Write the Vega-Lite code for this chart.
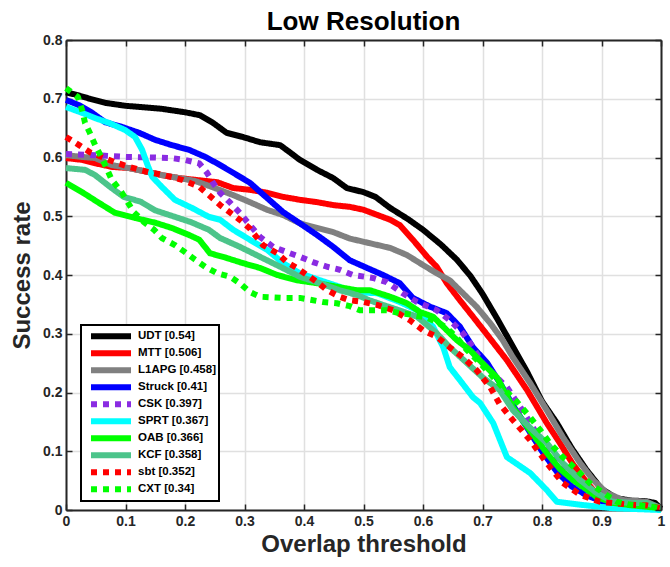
{
"$schema":"https://vega.github.io/schema/vega-lite/v6.json",
"width":595,"height":470,
"autosize":{"type":"none"},
"padding":{"left":66,"top":40,"right":9,"bottom":57},
"background":"white",
"config":{"font":"Liberation Sans","view":{"stroke":null}},
"title":{"text":"Low Resolution","fontSize":26,"fontWeight":"bold","color":"#000000","anchor":"middle","offset":-2},
"data":{"values":[
{"t":"UDT","x":0,"y":0.711},{"t":"UDT","x":0.02,"y":0.706},{"t":"UDT","x":0.04,"y":0.7},{"t":"UDT","x":0.066,"y":0.693},{"t":"UDT","x":0.1,"y":0.688},{"t":"UDT","x":0.16,"y":0.683},{"t":"UDT","x":0.2,"y":0.677},{"t":"UDT","x":0.225,"y":0.672},{"t":"UDT","x":0.247,"y":0.659},{"t":"UDT","x":0.27,"y":0.642},{"t":"UDT","x":0.297,"y":0.635},{"t":"UDT","x":0.326,"y":0.626},{"t":"UDT","x":0.36,"y":0.621},{"t":"UDT","x":0.376,"y":0.609},{"t":"UDT","x":0.393,"y":0.596},{"t":"UDT","x":0.422,"y":0.579},{"t":"UDT","x":0.449,"y":0.565},{"t":"UDT","x":0.472,"y":0.548},{"t":"UDT","x":0.5,"y":0.541},{"t":"UDT","x":0.52,"y":0.533},{"t":"UDT","x":0.545,"y":0.514},{"t":"UDT","x":0.575,"y":0.495},{"t":"UDT","x":0.6,"y":0.477},{"t":"UDT","x":0.63,"y":0.452},{"t":"UDT","x":0.657,"y":0.426},{"t":"UDT","x":0.68,"y":0.398},{"t":"UDT","x":0.7,"y":0.368},{"t":"UDT","x":0.725,"y":0.325},{"t":"UDT","x":0.75,"y":0.28},{"t":"UDT","x":0.775,"y":0.235},{"t":"UDT","x":0.8,"y":0.185},{"t":"UDT","x":0.825,"y":0.148},{"t":"UDT","x":0.85,"y":0.105},{"t":"UDT","x":0.875,"y":0.068},{"t":"UDT","x":0.9,"y":0.036},{"t":"UDT","x":0.925,"y":0.02},{"t":"UDT","x":0.95,"y":0.016},{"t":"UDT","x":0.975,"y":0.015},{"t":"UDT","x":0.99,"y":0.012},{"t":"UDT","x":1,"y":0.002},
{"t":"MTT","x":0,"y":0.599},{"t":"MTT","x":0.027,"y":0.596},{"t":"MTT","x":0.05,"y":0.59},{"t":"MTT","x":0.077,"y":0.584},{"t":"MTT","x":0.106,"y":0.582},{"t":"MTT","x":0.139,"y":0.575},{"t":"MTT","x":0.161,"y":0.57},{"t":"MTT","x":0.19,"y":0.565},{"t":"MTT","x":0.217,"y":0.562},{"t":"MTT","x":0.254,"y":0.558},{"t":"MTT","x":0.281,"y":0.548},{"t":"MTT","x":0.309,"y":0.545},{"t":"MTT","x":0.338,"y":0.54},{"t":"MTT","x":0.365,"y":0.533},{"t":"MTT","x":0.393,"y":0.528},{"t":"MTT","x":0.422,"y":0.524},{"t":"MTT","x":0.449,"y":0.519},{"t":"MTT","x":0.477,"y":0.516},{"t":"MTT","x":0.5,"y":0.511},{"t":"MTT","x":0.545,"y":0.494},{"t":"MTT","x":0.561,"y":0.485},{"t":"MTT","x":0.583,"y":0.46},{"t":"MTT","x":0.607,"y":0.431},{"t":"MTT","x":0.623,"y":0.414},{"t":"MTT","x":0.64,"y":0.386},{"t":"MTT","x":0.662,"y":0.357},{"t":"MTT","x":0.684,"y":0.329},{"t":"MTT","x":0.708,"y":0.298},{"t":"MTT","x":0.741,"y":0.255},{"t":"MTT","x":0.775,"y":0.204},{"t":"MTT","x":0.808,"y":0.148},{"t":"MTT","x":0.83,"y":0.114},{"t":"MTT","x":0.852,"y":0.078},{"t":"MTT","x":0.876,"y":0.046},{"t":"MTT","x":0.897,"y":0.022},{"t":"MTT","x":0.919,"y":0.012},{"t":"MTT","x":0.95,"y":0.01},{"t":"MTT","x":0.976,"y":0.009},{"t":"MTT","x":1,"y":0.003},
{"t":"L1APG","x":0,"y":0.604},{"t":"L1APG","x":0.027,"y":0.601},{"t":"L1APG","x":0.049,"y":0.599},{"t":"L1APG","x":0.077,"y":0.587},{"t":"L1APG","x":0.106,"y":0.582},{"t":"L1APG","x":0.139,"y":0.575},{"t":"L1APG","x":0.161,"y":0.57},{"t":"L1APG","x":0.19,"y":0.565},{"t":"L1APG","x":0.217,"y":0.56},{"t":"L1APG","x":0.245,"y":0.55},{"t":"L1APG","x":0.281,"y":0.536},{"t":"L1APG","x":0.309,"y":0.524},{"t":"L1APG","x":0.338,"y":0.511},{"t":"L1APG","x":0.365,"y":0.502},{"t":"L1APG","x":0.393,"y":0.488},{"t":"L1APG","x":0.422,"y":0.48},{"t":"L1APG","x":0.449,"y":0.473},{"t":"L1APG","x":0.477,"y":0.462},{"t":"L1APG","x":0.511,"y":0.454},{"t":"L1APG","x":0.545,"y":0.446},{"t":"L1APG","x":0.573,"y":0.434},{"t":"L1APG","x":0.6,"y":0.417},{"t":"L1APG","x":0.623,"y":0.403},{"t":"L1APG","x":0.645,"y":0.391},{"t":"L1APG","x":0.667,"y":0.369},{"t":"L1APG","x":0.69,"y":0.346},{"t":"L1APG","x":0.713,"y":0.318},{"t":"L1APG","x":0.734,"y":0.289},{"t":"L1APG","x":0.751,"y":0.26},{"t":"L1APG","x":0.78,"y":0.216},{"t":"L1APG","x":0.808,"y":0.17},{"t":"L1APG","x":0.835,"y":0.124},{"t":"L1APG","x":0.864,"y":0.08},{"t":"L1APG","x":0.886,"y":0.051},{"t":"L1APG","x":0.909,"y":0.029},{"t":"L1APG","x":0.936,"y":0.017},{"t":"L1APG","x":0.976,"y":0.014},{"t":"L1APG","x":1,"y":0.003},
{"t":"Struck","x":0,"y":0.698},{"t":"Struck","x":0.022,"y":0.689},{"t":"Struck","x":0.044,"y":0.676},{"t":"Struck","x":0.066,"y":0.66},{"t":"Struck","x":0.094,"y":0.652},{"t":"Struck","x":0.123,"y":0.642},{"t":"Struck","x":0.15,"y":0.63},{"t":"Struck","x":0.178,"y":0.621},{"t":"Struck","x":0.207,"y":0.613},{"t":"Struck","x":0.234,"y":0.601},{"t":"Struck","x":0.254,"y":0.59},{"t":"Struck","x":0.281,"y":0.574},{"t":"Struck","x":0.309,"y":0.557},{"t":"Struck","x":0.338,"y":0.531},{"t":"Struck","x":0.365,"y":0.507},{"t":"Struck","x":0.393,"y":0.488},{"t":"Struck","x":0.422,"y":0.468},{"t":"Struck","x":0.449,"y":0.448},{"t":"Struck","x":0.477,"y":0.425},{"t":"Struck","x":0.506,"y":0.412},{"t":"Struck","x":0.533,"y":0.4},{"t":"Struck","x":0.561,"y":0.386},{"t":"Struck","x":0.583,"y":0.361},{"t":"Struck","x":0.612,"y":0.346},{"t":"Struck","x":0.64,"y":0.335},{"t":"Struck","x":0.662,"y":0.312},{"t":"Struck","x":0.684,"y":0.277},{"t":"Struck","x":0.708,"y":0.25},{"t":"Struck","x":0.73,"y":0.215},{"t":"Struck","x":0.75,"y":0.18},{"t":"Struck","x":0.775,"y":0.14},{"t":"Struck","x":0.8,"y":0.1},{"t":"Struck","x":0.825,"y":0.065},{"t":"Struck","x":0.85,"y":0.04},{"t":"Struck","x":0.875,"y":0.025},{"t":"Struck","x":0.9,"y":0.015},{"t":"Struck","x":0.95,"y":0.007},{"t":"Struck","x":1,"y":0.002},
{"t":"CSK","x":0,"y":0.606},{"t":"CSK","x":0.05,"y":0.604},{"t":"CSK","x":0.1,"y":0.601},{"t":"CSK","x":0.15,"y":0.6},{"t":"CSK","x":0.178,"y":0.599},{"t":"CSK","x":0.2,"y":0.596},{"t":"CSK","x":0.224,"y":0.59},{"t":"CSK","x":0.237,"y":0.574},{"t":"CSK","x":0.247,"y":0.557},{"t":"CSK","x":0.259,"y":0.54},{"t":"CSK","x":0.276,"y":0.523},{"t":"CSK","x":0.292,"y":0.506},{"t":"CSK","x":0.309,"y":0.485},{"t":"CSK","x":0.326,"y":0.465},{"t":"CSK","x":0.348,"y":0.448},{"t":"CSK","x":0.371,"y":0.439},{"t":"CSK","x":0.393,"y":0.431},{"t":"CSK","x":0.415,"y":0.422},{"t":"CSK","x":0.439,"y":0.414},{"t":"CSK","x":0.46,"y":0.409},{"t":"CSK","x":0.482,"y":0.4},{"t":"CSK","x":0.516,"y":0.395},{"t":"CSK","x":0.539,"y":0.388},{"t":"CSK","x":0.566,"y":0.369},{"t":"CSK","x":0.59,"y":0.354},{"t":"CSK","x":0.623,"y":0.34},{"t":"CSK","x":0.645,"y":0.323},{"t":"CSK","x":0.667,"y":0.301},{"t":"CSK","x":0.684,"y":0.277},{"t":"CSK","x":0.7,"y":0.25},{"t":"CSK","x":0.724,"y":0.226},{"t":"CSK","x":0.741,"y":0.209},{"t":"CSK","x":0.77,"y":0.165},{"t":"CSK","x":0.8,"y":0.115},{"t":"CSK","x":0.83,"y":0.075},{"t":"CSK","x":0.86,"y":0.045},{"t":"CSK","x":0.88,"y":0.029},{"t":"CSK","x":0.91,"y":0.015},{"t":"CSK","x":0.95,"y":0.008},{"t":"CSK","x":1,"y":0.003},
{"t":"SPRT","x":0,"y":0.686},{"t":"SPRT","x":0.027,"y":0.676},{"t":"SPRT","x":0.049,"y":0.667},{"t":"SPRT","x":0.072,"y":0.659},{"t":"SPRT","x":0.099,"y":0.647},{"t":"SPRT","x":0.116,"y":0.635},{"t":"SPRT","x":0.128,"y":0.613},{"t":"SPRT","x":0.136,"y":0.59},{"t":"SPRT","x":0.145,"y":0.567},{"t":"SPRT","x":0.161,"y":0.55},{"t":"SPRT","x":0.183,"y":0.528},{"t":"SPRT","x":0.212,"y":0.514},{"t":"SPRT","x":0.24,"y":0.499},{"t":"SPRT","x":0.259,"y":0.494},{"t":"SPRT","x":0.281,"y":0.477},{"t":"SPRT","x":0.309,"y":0.46},{"t":"SPRT","x":0.338,"y":0.443},{"t":"SPRT","x":0.365,"y":0.42},{"t":"SPRT","x":0.393,"y":0.403},{"t":"SPRT","x":0.427,"y":0.391},{"t":"SPRT","x":0.46,"y":0.38},{"t":"SPRT","x":0.477,"y":0.371},{"t":"SPRT","x":0.523,"y":0.369},{"t":"SPRT","x":0.561,"y":0.354},{"t":"SPRT","x":0.59,"y":0.34},{"t":"SPRT","x":0.617,"y":0.312},{"t":"SPRT","x":0.634,"y":0.277},{"t":"SPRT","x":0.645,"y":0.243},{"t":"SPRT","x":0.662,"y":0.221},{"t":"SPRT","x":0.684,"y":0.192},{"t":"SPRT","x":0.696,"y":0.182},{"t":"SPRT","x":0.718,"y":0.148},{"t":"SPRT","x":0.741,"y":0.09},{"t":"SPRT","x":0.78,"y":0.063},{"t":"SPRT","x":0.808,"y":0.034},{"t":"SPRT","x":0.825,"y":0.014},{"t":"SPRT","x":0.864,"y":0.009},{"t":"SPRT","x":0.919,"y":0.003},{"t":"SPRT","x":1,"y":0},
{"t":"OAB","x":0,"y":0.557},{"t":"OAB","x":0.027,"y":0.541},{"t":"OAB","x":0.055,"y":0.523},{"t":"OAB","x":0.082,"y":0.506},{"t":"OAB","x":0.116,"y":0.497},{"t":"OAB","x":0.15,"y":0.489},{"t":"OAB","x":0.178,"y":0.48},{"t":"OAB","x":0.207,"y":0.468},{"t":"OAB","x":0.224,"y":0.46},{"t":"OAB","x":0.242,"y":0.437},{"t":"OAB","x":0.27,"y":0.429},{"t":"OAB","x":0.298,"y":0.42},{"t":"OAB","x":0.326,"y":0.412},{"t":"OAB","x":0.355,"y":0.4},{"t":"OAB","x":0.388,"y":0.391},{"t":"OAB","x":0.422,"y":0.386},{"t":"OAB","x":0.455,"y":0.38},{"t":"OAB","x":0.489,"y":0.374},{"t":"OAB","x":0.511,"y":0.374},{"t":"OAB","x":0.545,"y":0.363},{"t":"OAB","x":0.573,"y":0.352},{"t":"OAB","x":0.595,"y":0.337},{"t":"OAB","x":0.617,"y":0.329},{"t":"OAB","x":0.634,"y":0.312},{"t":"OAB","x":0.657,"y":0.289},{"t":"OAB","x":0.679,"y":0.272},{"t":"OAB","x":0.7,"y":0.25},{"t":"OAB","x":0.724,"y":0.226},{"t":"OAB","x":0.751,"y":0.175},{"t":"OAB","x":0.78,"y":0.135},{"t":"OAB","x":0.808,"y":0.097},{"t":"OAB","x":0.83,"y":0.07},{"t":"OAB","x":0.852,"y":0.051},{"t":"OAB","x":0.875,"y":0.035},{"t":"OAB","x":0.892,"y":0.022},{"t":"OAB","x":0.92,"y":0.012},{"t":"OAB","x":0.95,"y":0.008},{"t":"OAB","x":1,"y":0.003},
{"t":"KCF","x":0,"y":0.582},{"t":"KCF","x":0.032,"y":0.579},{"t":"KCF","x":0.049,"y":0.57},{"t":"KCF","x":0.074,"y":0.55},{"t":"KCF","x":0.097,"y":0.533},{"t":"KCF","x":0.125,"y":0.525},{"t":"KCF","x":0.15,"y":0.51},{"t":"KCF","x":0.18,"y":0.5},{"t":"KCF","x":0.21,"y":0.49},{"t":"KCF","x":0.24,"y":0.477},{"t":"KCF","x":0.259,"y":0.463},{"t":"KCF","x":0.292,"y":0.448},{"t":"KCF","x":0.326,"y":0.431},{"t":"KCF","x":0.36,"y":0.414},{"t":"KCF","x":0.393,"y":0.397},{"t":"KCF","x":0.427,"y":0.386},{"t":"KCF","x":0.46,"y":0.374},{"t":"KCF","x":0.489,"y":0.366},{"t":"KCF","x":0.51,"y":0.357},{"t":"KCF","x":0.533,"y":0.349},{"t":"KCF","x":0.56,"y":0.34},{"t":"KCF","x":0.59,"y":0.329},{"t":"KCF","x":0.623,"y":0.301},{"t":"KCF","x":0.645,"y":0.277},{"t":"KCF","x":0.674,"y":0.25},{"t":"KCF","x":0.7,"y":0.226},{"t":"KCF","x":0.729,"y":0.204},{"t":"KCF","x":0.751,"y":0.17},{"t":"KCF","x":0.78,"y":0.14},{"t":"KCF","x":0.808,"y":0.114},{"t":"KCF","x":0.835,"y":0.08},{"t":"KCF","x":0.864,"y":0.051},{"t":"KCF","x":0.892,"y":0.029},{"t":"KCF","x":0.919,"y":0.014},{"t":"KCF","x":0.95,"y":0.012},{"t":"KCF","x":0.976,"y":0.012},{"t":"KCF","x":1,"y":0.003},
{"t":"sbt","x":0,"y":0.635},{"t":"sbt","x":0.022,"y":0.621},{"t":"sbt","x":0.04,"y":0.609},{"t":"sbt","x":0.06,"y":0.601},{"t":"sbt","x":0.082,"y":0.592},{"t":"sbt","x":0.106,"y":0.584},{"t":"sbt","x":0.139,"y":0.575},{"t":"sbt","x":0.165,"y":0.57},{"t":"sbt","x":0.195,"y":0.562},{"t":"sbt","x":0.224,"y":0.55},{"t":"sbt","x":0.24,"y":0.536},{"t":"sbt","x":0.259,"y":0.519},{"t":"sbt","x":0.276,"y":0.506},{"t":"sbt","x":0.292,"y":0.494},{"t":"sbt","x":0.309,"y":0.479},{"t":"sbt","x":0.331,"y":0.451},{"t":"sbt","x":0.355,"y":0.437},{"t":"sbt","x":0.371,"y":0.422},{"t":"sbt","x":0.388,"y":0.412},{"t":"sbt","x":0.405,"y":0.4},{"t":"sbt","x":0.422,"y":0.388},{"t":"sbt","x":0.439,"y":0.374},{"t":"sbt","x":0.46,"y":0.363},{"t":"sbt","x":0.477,"y":0.357},{"t":"sbt","x":0.5,"y":0.354},{"t":"sbt","x":0.523,"y":0.349},{"t":"sbt","x":0.55,"y":0.34},{"t":"sbt","x":0.578,"y":0.323},{"t":"sbt","x":0.6,"y":0.306},{"t":"sbt","x":0.623,"y":0.295},{"t":"sbt","x":0.645,"y":0.277},{"t":"sbt","x":0.667,"y":0.26},{"t":"sbt","x":0.69,"y":0.238},{"t":"sbt","x":0.713,"y":0.209},{"t":"sbt","x":0.729,"y":0.18},{"t":"sbt","x":0.751,"y":0.153},{"t":"sbt","x":0.78,"y":0.119},{"t":"sbt","x":0.808,"y":0.08},{"t":"sbt","x":0.835,"y":0.046},{"t":"sbt","x":0.864,"y":0.026},{"t":"sbt","x":0.897,"y":0.014},{"t":"sbt","x":0.948,"y":0.009},{"t":"sbt","x":0.975,"y":0.008},{"t":"sbt","x":1,"y":0.003},
{"t":"CXT","x":0,"y":0.718},{"t":"CXT","x":0.02,"y":0.703},{"t":"CXT","x":0.027,"y":0.681},{"t":"CXT","x":0.032,"y":0.659},{"t":"CXT","x":0.04,"y":0.642},{"t":"CXT","x":0.049,"y":0.621},{"t":"CXT","x":0.06,"y":0.6},{"t":"CXT","x":0.077,"y":0.562},{"t":"CXT","x":0.094,"y":0.54},{"t":"CXT","x":0.114,"y":0.507},{"t":"CXT","x":0.131,"y":0.49},{"t":"CXT","x":0.148,"y":0.477},{"t":"CXT","x":0.161,"y":0.463},{"t":"CXT","x":0.183,"y":0.451},{"t":"CXT","x":0.2,"y":0.439},{"t":"CXT","x":0.217,"y":0.426},{"t":"CXT","x":0.234,"y":0.414},{"t":"CXT","x":0.254,"y":0.403},{"t":"CXT","x":0.276,"y":0.397},{"t":"CXT","x":0.292,"y":0.386},{"t":"CXT","x":0.309,"y":0.371},{"t":"CXT","x":0.326,"y":0.363},{"t":"CXT","x":0.365,"y":0.361},{"t":"CXT","x":0.393,"y":0.361},{"t":"CXT","x":0.432,"y":0.354},{"t":"CXT","x":0.455,"y":0.352},{"t":"CXT","x":0.477,"y":0.347},{"t":"CXT","x":0.494,"y":0.34},{"t":"CXT","x":0.539,"y":0.34},{"t":"CXT","x":0.561,"y":0.335},{"t":"CXT","x":0.583,"y":0.332},{"t":"CXT","x":0.607,"y":0.327},{"t":"CXT","x":0.623,"y":0.32},{"t":"CXT","x":0.64,"y":0.31},{"t":"CXT","x":0.657,"y":0.293},{"t":"CXT","x":0.674,"y":0.272},{"t":"CXT","x":0.696,"y":0.25},{"t":"CXT","x":0.718,"y":0.226},{"t":"CXT","x":0.741,"y":0.201},{"t":"CXT","x":0.758,"y":0.184},{"t":"CXT","x":0.78,"y":0.158},{"t":"CXT","x":0.797,"y":0.136},{"t":"CXT","x":0.813,"y":0.114},{"t":"CXT","x":0.835,"y":0.09},{"t":"CXT","x":0.859,"y":0.068},{"t":"CXT","x":0.88,"y":0.046},{"t":"CXT","x":0.903,"y":0.029},{"t":"CXT","x":0.926,"y":0.014},{"t":"CXT","x":0.948,"y":0.009},{"t":"CXT","x":0.976,"y":0.007},{"t":"CXT","x":1,"y":0.003}
]},
"layer":[
{"mark":{"type":"line","strokeWidth":6,"strokeCap":"butt","strokeJoin":"round"},
 "encoding":{
  "x":{"field":"x","type":"quantitative","scale":{"domain":[0,1],"nice":false,"zero":false},
   "axis":{"title":"Overlap threshold","titleFontSize":24,"titleFontWeight":"bold","titleColor":"#262626","titlePadding":4,
    "values":[0,0.1,0.2,0.3,0.4,0.5,0.6,0.7,0.8,0.9,1],"format":"~g","labelFontSize":14,"labelFontWeight":"bold","labelColor":"#262626",
    "labelFlush":false,"labelOverlap":false,"tickSize":-6,"labelPadding":10,"tickColor":"#262626","tickWidth":1.5,
    "domainColor":"#262626","domainWidth":2,"grid":true,"gridColor":"#e0e0e0","gridWidth":1.5}},
  "y":{"field":"y","type":"quantitative","scale":{"domain":[0,0.8],"nice":false,"zero":false},
   "axis":{"title":"Success rate","titleFontSize":24,"titleFontWeight":"bold","titleColor":"#262626","titlePadding":8,
    "values":[0,0.1,0.2,0.3,0.4,0.5,0.6,0.7,0.8],"format":"~g","labelFontSize":14,"labelFontWeight":"bold","labelColor":"#262626",
    "labelFlush":false,"labelOverlap":false,"tickSize":-6,"labelPadding":10,"tickColor":"#262626","tickWidth":1.5,
    "domainColor":"#262626","domainWidth":2,"grid":true,"gridColor":"#e0e0e0","gridWidth":1.5}},
  "color":{"field":"t","type":"nominal",
   "scale":{"domain":["UDT","MTT","L1APG","Struck","CSK","SPRT","OAB","KCF","sbt","CXT"],
    "range":["#000000","#ff0000","#808080","#0000ff","#8a2be2","#00ffff","#00ff00","#4cc48a","#ff0000","#00ff00"]},
   "legend":{"title":null,"orient":"none","legendX":15,"legendY":285,"fillColor":"#ffffff","strokeColor":"#000000",
    "padding":3,"symbolOffset":4,"rowPadding":0,"clipHeight":16.7,"symbolType":"stroke","symbolSize":1600,"symbolStrokeWidth":6,
    "labelFontSize":11.5,"labelFontWeight":"bold","labelColor":"#000000","labelOffset":4,"labelLimit":300,
    "labelExpr":"datum.label=='UDT'?'UDT [0.54]':datum.label=='MTT'?'MTT [0.506]':datum.label=='L1APG'?'L1APG [0.458]':datum.label=='Struck'?'Struck [0.41]':datum.label=='CSK'?'CSK [0.397]':datum.label=='SPRT'?'SPRT [0.367]':datum.label=='OAB'?'OAB [0.366]':datum.label=='KCF'?'KCF [0.358]':datum.label=='sbt'?'sbt [0.352]':'CXT [0.34]'",
    "encode":{"legend":{"update":{"strokeWidth":{"value":2}}}}}},
  "strokeDash":{"field":"t","type":"nominal",
   "scale":{"domain":["UDT","MTT","L1APG","Struck","CSK","SPRT","OAB","KCF","sbt","CXT"],
    "range":[[1,0],[1,0],[1,0],[1,0],[6,6],[1,0],[1,0],[1,0],[6,6],[6,6]]},
   "legend":{"title":null,"orient":"none","legendX":15,"legendY":285,"fillColor":"#ffffff","strokeColor":"#000000",
    "padding":3,"symbolOffset":4,"rowPadding":0,"clipHeight":16.7,"symbolType":"stroke","symbolSize":1600,"symbolStrokeWidth":6,
    "labelFontSize":11.5,"labelFontWeight":"bold","labelColor":"#000000","labelOffset":4,"labelLimit":300,
    "labelExpr":"datum.label=='UDT'?'UDT [0.54]':datum.label=='MTT'?'MTT [0.506]':datum.label=='L1APG'?'L1APG [0.458]':datum.label=='Struck'?'Struck [0.41]':datum.label=='CSK'?'CSK [0.397]':datum.label=='SPRT'?'SPRT [0.367]':datum.label=='OAB'?'OAB [0.366]':datum.label=='KCF'?'KCF [0.358]':datum.label=='sbt'?'sbt [0.352]':'CXT [0.34]'",
    "encode":{"legend":{"update":{"strokeWidth":{"value":2}}}}}}
 }},
{"mark":{"type":"point","opacity":0},
 "encoding":{
  "x":{"field":"x","type":"quantitative","axis":{"orient":"top","title":null,"labels":false,"grid":false,
    "values":[0,0.1,0.2,0.3,0.4,0.5,0.6,0.7,0.8,0.9,1],"tickSize":-6,"tickColor":"#262626","tickWidth":1.5,"domainColor":"#262626","domainWidth":2,"zindex":1}},
  "y":{"field":"y","type":"quantitative","axis":{"orient":"right","title":null,"labels":false,"grid":false,
    "values":[0,0.1,0.2,0.3,0.4,0.5,0.6,0.7,0.8],"tickSize":-6,"tickColor":"#262626","tickWidth":1.5,"domainColor":"#262626","domainWidth":2,"zindex":1}}
 }}
],
"resolve":{"axis":{"x":"independent","y":"independent"}}
}
